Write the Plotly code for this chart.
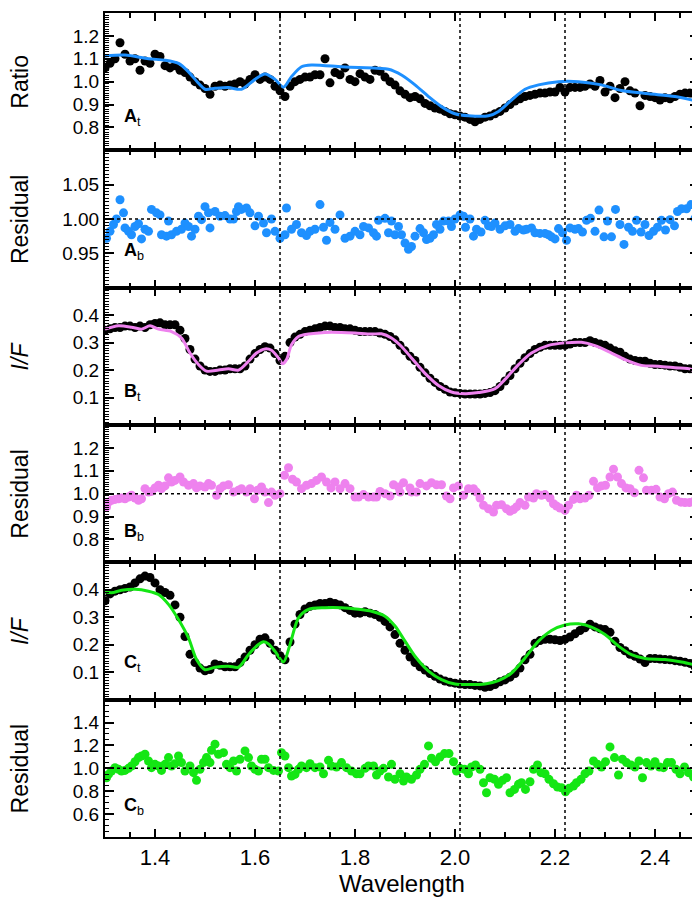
import plotly.graph_objects as go
from plotly.subplots import make_subplots

# ---------------- data ----------------
wl_grid = [1.30,1.31,1.32,1.33,1.34,1.35,1.36,1.37,1.38,1.39,1.40,1.41,1.42,1.43,1.44,1.45,1.46,1.47,1.48,1.49,
           1.50,1.51,1.52,1.53,1.54,1.55,1.56,1.57,1.58,1.59,1.60,1.61,1.62,1.63,1.64,1.65,1.66,1.67,1.68,1.69,
           1.70,1.71,1.72,1.73,1.74,1.75,1.76,1.77,1.78,1.79,1.80,1.81,1.82,1.83,1.84,1.85,1.86,1.87,1.88,1.89,
           1.90,1.91,1.92,1.93,1.94,1.95,1.96,1.97,1.98,1.99,2.00,2.01,2.02,2.03,2.04,2.05,2.06,2.07,2.08,2.09,
           2.10,2.11,2.12,2.13,2.14,2.15,2.16,2.17,2.18,2.19,2.20,2.21,2.22,2.23,2.24,2.25,2.26,2.27,2.28,2.29,
           2.30,2.31,2.32,2.33,2.34,2.35,2.36,2.37,2.38,2.39,2.40,2.41,2.42,2.43,2.44,2.45,2.46,2.47,2.48,2.485]

a_data = [1.06,1.08,1.10,1.17,1.12,1.09,1.10,1.05,1.09,1.08,1.12,1.11,1.07,1.06,1.07,1.05,1.04,1.02,1.0,0.985,
          0.97,0.945,0.98,0.985,0.98,0.985,0.99,1.0,0.99,1.01,1.03,1.01,1.02,1.01,0.98,0.96,0.935,0.98,1.0,1.01,
          1.02,1.02,1.03,1.03,1.10,0.995,1.04,1.03,1.06,1.01,1.0,1.035,1.02,1.01,1.05,1.045,1.02,1.0,0.985,0.96,
          0.945,0.93,0.935,0.925,0.905,0.895,0.885,0.88,0.87,0.86,0.855,0.85,0.845,0.835,0.825,0.835,0.845,0.85,0.86,0.87,
          0.885,0.90,0.915,0.925,0.935,0.94,0.945,0.95,0.95,0.955,0.955,0.975,0.955,0.975,0.975,0.975,0.98,0.99,0.98,1.005,
          0.955,0.98,0.93,0.97,1.0,0.96,0.95,0.895,0.94,0.935,0.93,0.92,0.93,0.925,0.935,0.945,0.95,0.95,0.945,0.94]

b_data = [0.345,0.35,0.355,0.355,0.36,0.36,0.355,0.36,0.355,0.365,0.37,0.372,0.365,0.365,0.365,0.345,0.315,0.275,0.24,0.215,
          0.20,0.195,0.195,0.20,0.20,0.205,0.205,0.205,0.215,0.24,0.26,0.275,0.285,0.28,0.26,0.235,0.25,0.30,0.32,0.33,
          0.34,0.345,0.35,0.355,0.36,0.36,0.355,0.355,0.35,0.35,0.345,0.34,0.34,0.34,0.34,0.335,0.33,0.322,0.31,0.29,
          0.27,0.25,0.235,0.21,0.19,0.17,0.155,0.14,0.13,0.12,0.117,0.115,0.113,0.113,0.113,0.113,0.115,0.118,0.125,0.14,
          0.16,0.18,0.205,0.225,0.245,0.26,0.275,0.283,0.29,0.29,0.29,0.29,0.29,0.295,0.30,0.30,0.30,0.307,0.30,0.295,
          0.29,0.28,0.27,0.265,0.25,0.24,0.235,0.232,0.232,0.225,0.22,0.22,0.218,0.215,0.215,0.21,0.205,0.205,0.20,0.17]

c_data = [0.36,0.385,0.395,0.40,0.405,0.41,0.425,0.44,0.45,0.445,0.425,0.40,0.39,0.38,0.345,0.30,0.23,0.165,0.135,0.115,
          0.105,0.11,0.13,0.125,0.12,0.12,0.12,0.135,0.155,0.18,0.20,0.22,0.225,0.205,0.18,0.16,0.145,0.21,0.275,0.31,
          0.33,0.34,0.345,0.35,0.35,0.355,0.35,0.345,0.335,0.325,0.315,0.315,0.32,0.315,0.31,0.30,0.285,0.265,0.237,0.205,
          0.18,0.155,0.135,0.12,0.108,0.095,0.085,0.075,0.068,0.063,0.06,0.057,0.055,0.055,0.052,0.05,0.045,0.048,0.055,0.065,
          0.072,0.082,0.095,0.115,0.145,0.165,0.205,0.215,0.22,0.22,0.218,0.215,0.22,0.228,0.24,0.252,0.262,0.275,0.265,0.258,
          0.255,0.245,0.213,0.19,0.178,0.165,0.158,0.148,0.135,0.15,0.15,0.148,0.146,0.145,0.142,0.14,0.136,0.132,0.12,0.043]

a_model_wl = [1.30,1.34,1.387,1.42,1.447,1.467,1.487,1.50,1.52,1.547,1.573,1.60,1.62,1.64,1.657,1.673,1.693,1.713,
              1.773,1.807,1.867,1.893,1.92,1.947,1.973,2.00,2.027,2.067,2.087,2.113,2.14,2.167,2.207,2.247,2.293,
              2.333,2.387,2.44,2.487]
a_model = [1.112,1.116,1.10,1.094,1.08,1.043,0.993,0.967,0.971,0.974,0.967,1.01,1.033,1.01,0.976,1.022,1.065,1.073,
           1.065,1.062,1.054,1.029,0.986,0.935,0.891,0.86,0.851,0.851,0.870,0.92,0.967,0.986,1.0,1.0,0.986,
           0.961,0.947,0.935,0.913]

b_model_wl = [1.30,1.327,1.353,1.373,1.39,1.407,1.433,1.453,1.47,1.487,1.503,1.527,1.547,1.567,1.587,1.603,1.62,
              1.633,1.647,1.655,1.663,1.673,1.687,1.707,1.74,1.773,1.80,1.833,1.853,1.873,1.893,1.913,1.94,1.967,
              1.993,2.02,2.047,2.08,2.10,2.127,2.153,2.187,2.22,2.253,2.28,2.313,2.34,2.373,2.407,2.44,2.473,2.485]
b_model = [0.349,0.361,0.356,0.349,0.361,0.349,0.34,0.317,0.262,0.22,0.196,0.2,0.205,0.2,0.232,0.262,0.277,
           0.272,0.244,0.223,0.238,0.292,0.322,0.331,0.337,0.337,0.335,0.331,0.332,0.317,0.286,0.244,0.188,0.144,
           0.12,0.114,0.118,0.132,0.166,0.22,0.262,0.29,0.299,0.301,0.289,0.262,0.238,0.217,0.214,0.208,0.202,0.169]

c_model_wl = [1.30,1.313,1.333,1.36,1.387,1.407,1.427,1.447,1.467,1.483,1.50,1.52,1.547,1.567,1.587,1.607,1.617,
              1.627,1.64,1.657,1.67,1.687,1.707,1.74,1.773,1.807,1.833,1.86,1.88,1.90,1.92,1.947,1.973,2.0,2.027,
              2.06,2.087,2.113,2.14,2.167,2.193,2.22,2.247,2.273,2.30,2.327,2.353,2.38,2.42,2.453,2.483]
c_model = [0.393,0.389,0.398,0.402,0.395,0.383,0.347,0.292,0.225,0.146,0.109,0.118,0.122,0.118,0.164,0.201,0.211,
           0.203,0.176,0.137,0.201,0.298,0.329,0.335,0.335,0.329,0.322,0.304,0.268,0.213,0.158,0.104,0.073,0.057,0.055,
           0.057,0.069,0.097,0.152,0.213,0.252,0.272,0.276,0.264,0.237,0.195,0.164,0.150,0.146,0.137,0.125]

a_res_wl = [1.303,1.310,1.317,1.323,1.330,1.337,1.340,1.347,1.353,1.360,1.367,1.373,1.380,1.387,1.393,1.403,1.410,
            1.413,1.423,1.427,1.433,1.443,1.453,1.460,1.467,1.473,1.480,1.487,1.493,1.500,1.507,1.510,1.520,1.530,
            1.540,1.550,1.557,1.563,1.567,1.573,1.583,1.590,1.600,1.607,1.617,1.623,1.633,1.640,1.650,1.660,1.663,
            1.673,1.683,1.693,1.703,1.710,1.720,1.730,1.737,1.743,1.750,1.760,1.770,1.780,1.790,1.800,
            1.810,1.817,1.827,1.837,1.843,1.847,1.860,1.867,1.873,1.880,1.887,1.893,1.900,1.907,1.913,1.920,1.930,
            1.937,1.943,1.950,1.957,1.963,1.970,1.977,1.987,1.993,2.000,2.010,2.017,2.021,2.030,2.037,2.043,2.052,
            2.060,2.067,2.073,2.080,2.090,2.100,2.110,2.120,2.127,2.137,2.143,2.153,2.160,2.170,2.180,2.187,2.193,
            2.200,2.207,2.215,2.223,2.230,2.240,2.247,2.255,2.263,2.271,2.280,2.288,2.298,2.305,2.313,2.321,2.330,
            2.338,2.347,2.355,2.363,2.372,2.380,2.388,2.397,2.405,2.413,2.421,2.430,2.439,2.445,2.453,2.463,2.472,
            2.480,2.487]
a_res = [0.972,0.982,0.992,1.0,1.028,1.009,0.987,0.982,0.977,0.989,0.993,0.971,0.985,0.982,1.014,1.009,1.006,
         0.977,0.975,0.997,0.977,0.982,0.985,0.994,0.989,0.975,0.985,1.004,0.999,1.018,1.009,0.987,1.011,1.004,
         1.005,1.0,1.0,1.011,1.018,1.014,1.016,1.009,0.99,1.004,0.994,0.98,1.0,0.982,0.972,0.977,1.016,
         0.985,0.992,0.98,0.976,0.982,0.985,1.021,0.988,0.969,0.995,0.985,1.006,0.972,0.975,0.982,
         0.977,0.989,0.987,0.98,0.975,0.998,1.001,0.98,0.997,0.977,0.989,0.977,0.965,0.956,0.96,0.975,0.986,
         0.98,0.97,0.972,0.977,0.992,0.985,0.997,0.997,0.989,1.0,1.006,1.004,0.988,1.0,0.975,0.985,0.981,
         0.998,0.99,0.989,0.994,0.985,0.99,0.992,0.982,0.986,0.984,0.985,0.987,0.98,0.979,0.979,
         0.977,0.974,0.971,0.986,0.98,0.969,0.987,0.985,0.986,0.981,0.998,1.001,0.982,1.013,0.974,0.997,0.974,
         1.014,0.992,0.963,0.988,0.982,0.998,0.981,0.992,0.976,0.982,0.988,0.998,0.984,0.999,0.99,1.011,1.015,
         1.015,1.021,1.001,1.014]

b_res_wl = [1.303,1.307,1.313,1.320,1.327,1.333,1.340,1.347,1.353,1.360,1.367,1.373,1.380,1.387,1.393,1.400,1.407,
            1.413,1.420,1.427,1.433,1.440,1.450,1.457,1.467,1.477,1.483,1.490,1.500,1.507,1.513,1.523,1.530,1.537,
            1.547,1.557,1.567,1.573,1.583,1.590,1.599,1.605,1.613,1.620,1.627,1.633,1.640,1.650,1.659,1.667,1.675,
            1.683,1.693,1.703,1.713,1.723,1.733,1.743,1.752,1.760,1.770,1.780,1.790,1.800,
            1.807,1.817,1.827,1.837,1.843,1.850,1.860,1.870,1.877,1.887,1.890,1.897,1.910,1.913,1.923,1.930,1.943,
            1.953,1.963,1.973,1.983,1.990,1.997,2.007,2.017,2.027,2.037,2.043,2.050,2.057,2.067,2.077,2.083,2.093,
            2.103,2.110,2.117,2.123,2.130,2.140,2.147,2.157,2.163,2.173,2.180,2.190,2.197,2.203,2.210,2.220,2.227,
            2.237,2.243,2.250,2.260,2.268,2.277,2.285,2.293,2.301,2.310,2.317,2.325,2.333,2.342,2.350,2.359,2.368,
            2.377,2.383,2.393,2.402,2.410,2.419,2.427,2.435,2.443,2.452,2.460,2.469,2.477,2.485]
b_res = [0.942,0.963,0.971,0.975,0.978,0.981,0.978,0.985,0.993,0.981,0.971,0.978,1.022,1.007,1.01,1.025,1.037,
         1.022,1.034,1.069,1.051,1.058,1.073,1.051,1.037,1.044,1.025,1.034,1.029,1.044,1.037,0.993,1.022,1.034,
         1.039,1.007,1.015,1.022,1.007,1.022,0.978,1.015,1.029,1.007,0.961,1.007,0.993,1.0,1.08,1.113,1.063,
         1.051,1.022,1.037,1.044,1.058,1.073,1.051,1.025,1.051,1.022,1.044,1.022,0.985,
         0.985,0.996,0.985,0.985,0.985,1.01,1.0,0.99,1.039,1.029,1.007,1.048,1.025,1.007,1.007,1.044,1.034,
         1.048,1.039,1.039,0.99,0.978,1.025,1.034,0.993,1.022,1.022,1.007,0.981,0.949,0.934,0.92,0.949,0.952,
         0.934,0.923,0.931,0.942,0.961,0.949,0.985,0.981,1.0,0.993,0.996,0.981,0.956,0.946,0.937,0.927,0.949,
         0.975,0.993,0.978,0.981,0.993,1.054,1.025,1.034,1.037,1.073,1.107,1.073,1.044,1.025,1.022,1.004,1.102,
         1.069,1.015,1.015,1.019,0.985,0.978,1.0,1.007,0.971,0.963,0.961,0.961,0.966,0.927]

c_res_wl = [1.303,1.307,1.313,1.320,1.327,1.333,1.340,1.347,1.353,1.360,1.367,1.373,1.380,1.387,1.393,1.400,1.407,
            1.413,1.420,1.427,1.433,1.440,1.447,1.453,1.460,1.470,1.477,1.483,1.490,1.497,1.503,1.510,1.513,1.520,
            1.527,1.537,1.543,1.550,1.557,1.563,1.570,1.580,1.587,1.593,1.600,1.607,1.613,1.620,1.627,1.637,1.647,
            1.653,1.660,1.667,1.673,1.680,1.687,1.693,1.703,1.710,1.720,1.730,1.737,1.747,1.753,1.763,1.773,1.783,
            1.793,1.803,
            1.810,1.820,1.827,1.837,1.843,1.850,1.857,1.867,1.873,1.880,1.890,1.897,1.903,1.913,1.923,1.930,1.939,
            1.947,1.953,1.961,1.970,1.979,1.988,1.997,2.003,2.010,2.019,2.027,2.033,2.041,2.050,2.057,2.063,2.070,
            2.079,2.087,2.095,2.103,2.110,2.119,2.127,2.133,2.141,2.150,2.157,2.165,2.172,2.180,2.188,2.197,2.205,
            2.213,2.221,2.228,2.237,2.243,2.252,2.260,2.268,2.277,2.285,2.293,2.301,2.310,2.319,2.327,2.335,2.343,
            2.352,2.360,2.368,2.375,2.383,2.392,2.400,2.409,2.417,2.425,2.433,2.442,2.450,2.459,2.467,2.477]
c_res = [0.918,0.947,0.977,1.006,0.991,0.977,0.982,1.0,1.02,1.058,1.094,1.108,1.123,1.064,1.006,1.035,1.02,
         0.982,1.035,1.094,1.02,1.041,1.108,1.05,0.977,1.02,0.962,0.895,0.991,1.05,1.094,1.05,1.158,1.211,
         1.123,1.137,1.035,1.006,1.064,0.977,1.079,1.152,1.094,1.02,0.991,0.977,1.079,1.079,1.006,0.982,0.977,
         1.137,1.108,1.006,0.933,0.947,0.991,1.02,1.006,1.041,1.006,1.012,0.953,1.07,1.02,1.012,1.05,1.006,
         0.977,0.953,
         0.953,1.0,1.02,1.02,0.942,0.977,1.0,0.924,1.035,0.904,0.953,0.889,0.924,0.904,0.942,0.991,1.035,
         1.196,1.088,1.058,1.099,1.129,1.129,1.058,0.977,1.0,0.991,0.953,1.012,1.029,0.991,0.874,0.787,0.918,
         0.904,0.86,0.895,0.918,0.787,0.816,0.86,0.874,0.816,0.883,0.991,1.029,0.962,0.953,0.904,0.865,0.836,
         0.83,0.795,0.825,0.845,0.874,0.904,0.953,0.977,1.064,1.035,1.012,1.058,1.187,1.094,0.942,1.079,1.05,
         1.029,1.012,1.064,0.918,1.05,1.02,1.058,1.012,1.006,1.05,1.05,0.991,0.953,1.012,0.962,0.924]

marker_lines = [1.65, 2.01, 2.22]
x_tickvals = [1.4, 1.6, 1.8, 2.0, 2.2, 2.4]
x_ticktext = ["1.4", "1.6", "1.8", "2.0", "2.2", "2.4"]

y_ranges = [[0.7, 1.3], [0.9, 1.1], [0.0, 0.5], [0.7, 1.3], [0.0, 0.5], [0.4, 1.6]]
y_tickvals = [[0.8, 0.9, 1.0, 1.1, 1.2], [0.95, 1.00, 1.05], [0.1, 0.2, 0.3, 0.4],
              [0.8, 0.9, 1.0, 1.1, 1.2], [0.1, 0.2, 0.3, 0.4], [0.6, 0.8, 1.0, 1.2, 1.4]]
y_ticktext = [["0.8", "0.9", "1.0", "1.1", "1.2"], ["0.95", "1.00", "1.05"], ["0.1", "0.2", "0.3", "0.4"],
              ["0.8", "0.9", "1.0", "1.1", "1.2"], ["0.1", "0.2", "0.3", "0.4"], ["0.6", "0.8", "1.0", "1.2", "1.4"]]
y_minor_dt = [0.01, 0.005, 0.01, 0.01, 0.01, 0.05]
y_titles = ["Ratio", "Residual", "<i>I/F</i>", "Residual", "<i>I/F</i>", "Residual"]
panel_labels = ["<b>A</b><sub>t</sub>", "<b>A</b><sub>b</sub>", "<b>B</b><sub>t</sub>",
                "<b>B</b><sub>b</sub>", "<b>C</b><sub>t</sub>", "<b>C</b><sub>b</sub>"]
panel_label_y = [0.845, 0.953, 0.118, 0.829, 0.131, 0.664]

BLUE = "#1E90FF"
VIOLET = "#EE82EE"
GREEN = "#14E614"
FONT = "Liberation Sans"

# ---------------- figure ----------------
fig = make_subplots(rows=6, cols=1, shared_xaxes=True, vertical_spacing=0)

def dots(x, y, color, row):
    fig.add_trace(go.Scatter(x=x, y=y, mode="markers", marker=dict(color=color, size=9, line=dict(width=0)),
                             showlegend=False, cliponaxis=True), row=row, col=1)

def model(x, y, color, row):
    fig.add_trace(go.Scatter(x=x, y=y, mode="lines", line=dict(color=color, width=3, shape="spline", smoothing=0.8),
                             showlegend=False), row=row, col=1)

dots(wl_grid, a_data, "black", 1)
model(a_model_wl, a_model, BLUE, 1)
dots(a_res_wl, a_res, BLUE, 2)
dots(wl_grid, b_data, "black", 3)
model(b_model_wl, b_model, VIOLET, 3)
dots(b_res_wl, b_res, VIOLET, 4)
dots(wl_grid, c_data, "black", 5)
model(c_model_wl, c_model, GREEN, 5)
dots(c_res_wl, c_res, GREEN, 6)

for i in range(6):
    r = i + 1
    fig.update_xaxes(row=r, col=1, range=[1.3, 2.488], tickmode="array", tickvals=x_tickvals, ticktext=x_ticktext,
                     ticks="inside", ticklen=8, tickwidth=2, tickcolor="black", mirror="ticks",
                     showline=True, linecolor="black", linewidth=2, showgrid=False, zeroline=False,
                     minor=dict(tickmode="linear", tick0=0, dtick=0.05, ticks="inside", ticklen=5,
                                tickwidth=1.5, tickcolor="black", showgrid=False),
                     tickfont=dict(family=FONT, size=22, color="black"), showticklabels=(r == 6))
    fig.update_yaxes(row=r, col=1, range=y_ranges[i], tickmode="array", tickvals=y_tickvals[i],
                     ticktext=y_ticktext[i], ticks="inside", ticklen=9, tickwidth=2, tickcolor="black",
                     mirror="ticks", showline=True, linecolor="black", linewidth=2, showgrid=False,
                     zeroline=False,
                     minor=dict(tickmode="linear", tick0=0, dtick=y_minor_dt[i], ticks="inside", ticklen=4,
                                tickwidth=1, tickcolor="black", showgrid=False),
                     tickfont=dict(family=FONT, size=19, color="black"))

fig.update_xaxes(row=6, col=1, title=dict(text="Wavelength", font=dict(family=FONT, size=24, color="black"),
                                          standoff=2))

shapes = []
for xv in marker_lines:
    shapes.append(dict(type="line", xref="x", yref="paper", x0=xv, x1=xv, y0=0, y1=1,
                       line=dict(color="black", width=1.5, dash="dot"), layer="above"))
for ax in ["y2", "y4", "y6"]:
    shapes.append(dict(type="line", xref="paper", yref=ax, x0=0, x1=1, y0=1.0, y1=1.0,
                       line=dict(color="black", width=1.5, dash="dot"), layer="above"))

annotations = []
yrefs = ["y", "y2", "y3", "y4", "y5", "y6"]
for i in range(6):
    annotations.append(dict(text=y_titles[i], xref="paper", yref=yrefs[i] + " domain", x=-0.143, y=0.5,
                            textangle=-90, showarrow=False, xanchor="center", yanchor="middle",
                            font=dict(family=FONT, size=23, color="black")))
    annotations.append(dict(text=panel_labels[i], xref="x", yref=yrefs[i], x=1.333, y=panel_label_y[i],
                            showarrow=False, xanchor="left", yanchor="middle",
                            font=dict(family=FONT, size=18, color="black")))

fig.update_layout(width=700, height=897, margin=dict(l=97, r=9, t=3, b=68),
                  plot_bgcolor="white", paper_bgcolor="white", shapes=shapes, annotations=annotations,
                  font=dict(family=FONT, color="black"))

fig.write_html("out.html")
